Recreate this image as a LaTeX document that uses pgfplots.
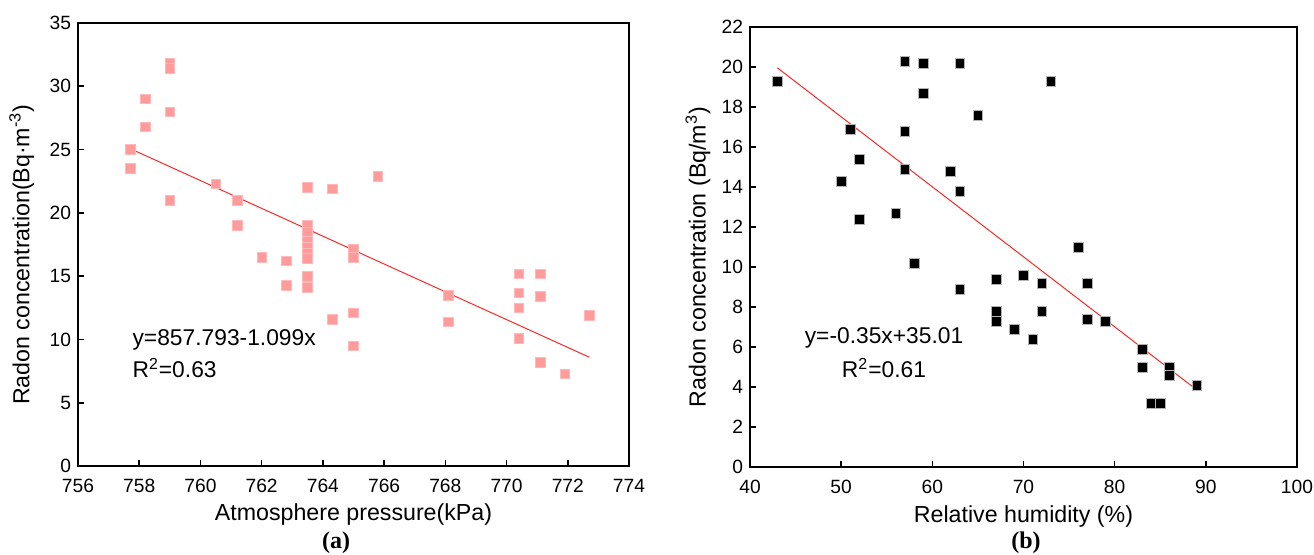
\documentclass[border=0pt]{standalone}
\usepackage{pgfplots}
\pgfplotsset{compat=1.18}
\usepackage{fontspec}
\setmainfont{Liberation Sans}
\newfontfamily\capfont{Liberation Serif}

\definecolor{pinkpt}{RGB}{255,155,155}
\definecolor{fitred}{RGB}{255,40,40}

\pgfplotsset{
  panel/.style={
    scale only axis,
    axis line style={line width=1pt},
    tick align=inside,
    xtick pos=left, ytick pos=left,
    major tick length=3pt,
    tick style={line width=0.8pt, black},
    /pgf/number format/assume math mode=true,
    ticklabel style={font=\fontsize{9.6}{11}\selectfont},
    xticklabel style={yshift=-3pt},
    label style={font=\fontsize{11.6}{13}\selectfont},
    clip=false,
  }
}

\begin{document}
\begin{tikzpicture}
\path[use as bounding box] (-39pt,-44pt) rectangle (618pt,233pt);

% (a) pressure
\begin{axis}[panel,
  at={(0pt,0pt)}, anchor=south west,
  width=275.5pt, height=221.5pt,
  xmin=756, xmax=774, ymin=0, ymax=35,
  xtick={756,758,...,774}, ytick={0,5,...,35},
  xlabel={Atmosphere pressure(kPa)},
  ylabel={Radon concentration(Bq·m\textsuperscript{-3})},
  xlabel style={at={(axis description cs:0.5,-0.1106)}, anchor=center},
  ylabel style={at={(axis description cs:-0.102,0.477)}, anchor=center},
]
\addplot[only marks, mark=square*, mark size=2.4pt,
  mark options={fill=pinkpt, draw=pinkpt!70!white, line width=0.3pt}]
  coordinates {
  (759.0,31.8) (759.0,31.4) (758.2,29.0) (759.0,28.0) (758.2,26.8)
  (757.7,25.0) (757.7,23.5) (759.0,21.0) (760.5,22.3) (761.2,21.0)
  (761.2,19.0) (763.5,22.0) (764.3,21.9) (763.5,19.0) (763.5,18.5)
  (763.5,17.8) (763.5,17.3) (763.5,16.8) (763.5,16.4) (763.5,15.0)
  (763.5,14.1) (762.0,16.5) (762.8,16.2) (762.8,14.3) (765.0,17.1)
  (765.0,16.5) (764.3,11.6) (765.0,12.1) (765.0,9.5) (765.8,22.9)
  (768.1,13.5) (768.1,11.4) (770.4,15.2) (770.4,13.7) (770.4,12.5)
  (770.4,10.1) (771.1,15.2) (771.1,13.4) (771.1,8.2) (771.9,7.3)
  (772.7,11.9)
};
\addplot[fitred, line width=0.5pt, no marks] coordinates {(757.7,25.08) (772.7,8.60)};
\node[anchor=west, inner sep=0pt, font=\fontsize{11.4}{13}\selectfont] at (axis cs:757.77,10.0) {y=857.793-1.099x};
\node[anchor=west, inner sep=0pt, font=\fontsize{11.4}{13}\selectfont] at (axis cs:757.77,7.75) {R\textsuperscript{2}=0.63};
\end{axis}

% (b) humidity
\begin{axis}[panel,
  at={(336pt,-0.5pt)}, anchor=south west,
  width=273.5pt, height=220pt,
  xmin=40, xmax=100, ymin=0, ymax=22,
  xtick={40,50,...,100}, ytick={0,2,...,22},
  xlabel={Relative humidity (\%)},
  ylabel={Radon concentration (Bq/m\textsuperscript{3})},
  xlabel style={at={(axis description cs:0.5,-0.1136)}, anchor=center},
  ylabel style={at={(axis description cs:-0.095,0.477)}, anchor=center},
]
\addplot[only marks, mark=square*, mark size=2.4pt,
  mark options={fill=black, draw=gray!60, line width=0.3pt}]
  coordinates {
  (43,19.3) (57,20.3) (59,20.2) (63,20.2) (59,18.7) (65,17.6)
  (51,16.9) (57,16.8) (52,15.4) (57,14.9) (62,14.8) (50,14.3)
  (63,13.8) (56,12.7) (52,12.4) (73,19.3) (58,10.2) (63,8.9)
  (67,9.4) (67,7.8) (67,7.3) (69,6.9) (70,9.6) (72,9.2)
  (72,7.8) (71,6.4) (76,11.0) (77,9.2) (77,7.4) (79,7.3)
  (83,5.9) (83,5.0) (86,5.0) (86,4.6) (89,4.1) (84,3.2) (85,3.2)
};
\addplot[fitred, line width=0.5pt, no marks] coordinates {(43,19.96) (89,3.86)};
\node[anchor=center, font=\fontsize{11.4}{13}\selectfont] at (axis cs:54.7,6.45) {y=-0.35x+35.01};
\node[anchor=center, font=\fontsize{11.4}{13}\selectfont] at (axis cs:54.7,4.95) {R\textsuperscript{2}=0.61};
\end{axis}

\node[font=\capfont\bfseries\fontsize{12}{14}\selectfont] at (129pt,-38.5pt) {(a)};
\node[font=\capfont\bfseries\fontsize{12}{14}\selectfont] at (474pt,-38.5pt) {(b)};
\end{tikzpicture}
\end{document}
